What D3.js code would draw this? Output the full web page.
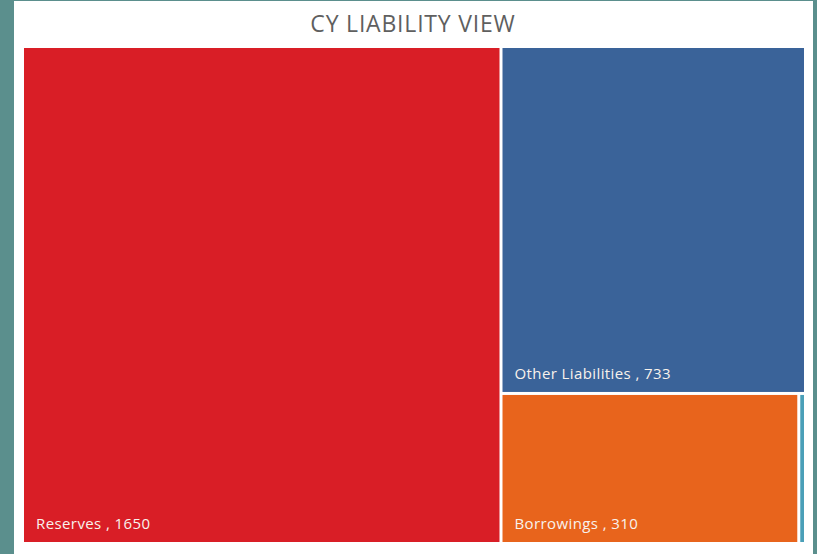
<!DOCTYPE html>
<html>
<head>
<meta charset="utf-8">
<script src="https://cdn.jsdelivr.net/npm/d3@7"></script>
<style>
  body { margin: 0; background: #5b8f8d; }
  svg { display: block; }
</style>
</head>
<body>
<svg id="chart" width="817" height="554"></svg>
<script>
// liability items for the current year
const names = ["Reserves", "Other Liabilities", "Borrowings", "Provisions"]
const values = [1650, 733, 310, 7]
const colors = ["#d91e26", "#3a6399", "#e8641c", "#4a9fb8"]
const showLabel = [true, true, true, false]

const width = 817
const height = 554

const svg = d3.select("#chart")

// white panel behind the chart
svg.append("rect")
  .attr("x", 14)
  .attr("y", 1)
  .attr("width", 799)
  .attr("height", height - 1)
  .attr("fill", "#ffffff")

svg.append("text")
  .attr("x", 413)
  .attr("y", 32)
  .attr("text-anchor", "middle")
  .attr("font-family", "'Open Sans', sans-serif")
  .attr("font-size", 23)
  .attr("letter-spacing", 0.8)
  .attr("fill", "#5f5f5f")
  .text("CY LIABILITY VIEW")

const data = {
  name: "root",
  children: names.map((n, i) => ({ name: n, value: values[i], color: colors[i], label: showLabel[i] }))
}

const root = d3.hierarchy(data)
  .sum(d => d.value || 0)
  .sort((a, b) => b.value - a.value)

d3.treemap()
  .tile(d3.treemapSquarify.ratio(1))
  .paddingInner(3)
  .size([780, 494])(root)

const g = svg.append("g").attr("transform", "translate(24,48)")

const leaf = g.selectAll(".leaf")
  .data(root.leaves())
  .enter().append("g")
    .attr("class", "leaf")

leaf.append("rect")
  .attr("x", d => d.x0)
  .attr("y", d => d.y0)
  .attr("width", d => d.x1 - d.x0)
  .attr("height", d => d.y1 - d.y0)
  .attr("fill", d => d.data.color)

leaf.filter(d => d.data.label)
  .append("text")
    .attr("x", d => d.x0 + 12)
    .attr("y", d => d.y1 - 13)
    .attr("font-family", "'Open Sans', sans-serif")
    .attr("font-size", 15)
    .attr("letter-spacing", 0.4)
    .attr("fill", "#f8f2ec")
    .text(d => d.data.name + " , " + d.data.value)
</script>
</body>
</html>
